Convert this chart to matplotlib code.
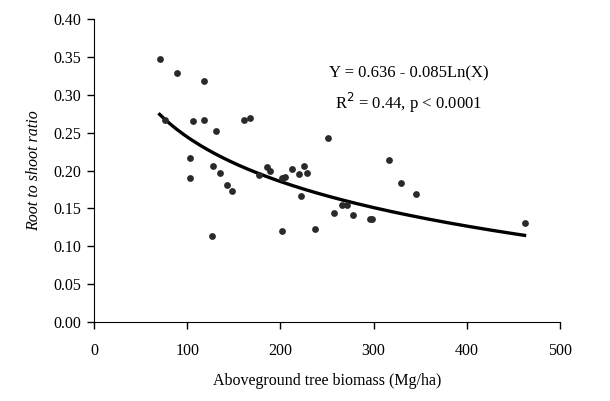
import numpy as np
import matplotlib
matplotlib.use("Agg")
import matplotlib.pyplot as plt

# aboveground tree biomass (Mg/ha) and root to shoot ratio
biomass = [70.5, 88.7, 118.6, 75.9, 106.8, 118.6, 131.4, 161.3, 167.7, 251,
           102.6, 102.6, 128.2, 135.7, 143.2, 148.5, 127, 177.4, 186, 189,
           202, 205, 212.6, 225.4, 220, 228.6, 222, 202, 237, 317,
           329, 345, 257.5, 266, 271, 278, 296, 298, 462]
ratio = [0.347, 0.329, 0.318, 0.267, 0.266, 0.267, 0.252, 0.267, 0.269, 0.243,
         0.217, 0.190, 0.206, 0.197, 0.181, 0.173, 0.114, 0.194, 0.205, 0.199,
         0.190, 0.192, 0.202, 0.206, 0.196, 0.197, 0.166, 0.120, 0.123, 0.214,
         0.184, 0.169, 0.144, 0.155, 0.155, 0.141, 0.136, 0.136, 0.131]

# log trend line as printed on the chart
intercept = 0.636
slope = -0.085

x_ticks = [0, 100, 200, 300, 400, 500]
y_ticks = [0.00, 0.05, 0.10, 0.15, 0.20, 0.25, 0.30, 0.35, 0.40]

plt.rcParams['font.family'] = ['Liberation Serif', 'DejaVu Serif']

fig = plt.figure(figsize=(6.10, 4.01), dpi=100)
ax = fig.add_axes([0.154, 0.197, 0.764, 0.755])

ax.scatter(biomass, ratio, s=24, color='#2a2a2a', zorder=3, linewidths=0)

xs = np.linspace(min(biomass), max(biomass), 200)
ax.plot(xs, intercept + slope * np.log(xs), color='black', lw=2.4, zorder=2)

ax.set_xlim(0, 500)
ax.set_ylim(0, 0.40)
ax.set_xticks(x_ticks)
ax.set_yticks(y_ticks)
ax.set_yticklabels(["%.2f" % v for v in y_ticks])
ax.tick_params(direction='out', length=5, width=1, labelsize=11.5, pad=10)
ax.tick_params(axis='y', pad=4)
ax.spines['top'].set_visible(False)
ax.spines['right'].set_visible(False)

ax.set_xlabel("Aboveground tree biomass (Mg/ha)", fontsize=11.5, labelpad=10)
ax.set_ylabel("Root to shoot ratio", fontsize=11.5, style='italic', labelpad=8)

ax.text(338, 0.329, "Y = 0.636 - 0.085Ln(X)", fontsize=12, ha='center', va='center')
ax.text(338, 0.290, "R$^2$ = 0.44, p < 0.0001", fontsize=12, ha='center', va='center')

fig.savefig("out.png", dpi=100)
